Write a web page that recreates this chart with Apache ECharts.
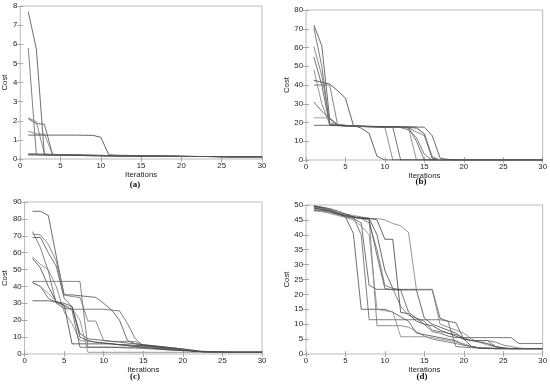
<!DOCTYPE html>
<html>
<head>
<meta charset="utf-8">
<script src="https://cdn.jsdelivr.net/npm/echarts@6/dist/echarts.min.js"></script>
<style>html,body{margin:0;padding:0;background:#fff}#c{width:550px;height:389px}</style>
</head>
<body>
<div id="c"></div>
<script>
const iterations = [1,2,3,4,5,6,7,8,9,10,11,12,13,14,15,16,17,18,19,20,21,22,23,24,25,26,27,28,29,30];
const xTicks = [0,5,10,15,20,25,30];

const panelA = [
  [7.7,5.75,0.22,0.21,0.2,0.19,0.18,0.18,0.17,0.17,0.16,0.16,0.15,0.15,0.15,0.14,0.14,0.14,0.14,0.13,0.13,0.13,0.13,0.13,0.13,0.12,0.12,0.12,0.12,0.12],
  [5.8,0.23,0.22,0.21,0.2,0.19,0.19,0.18,0.17,0.17,0.16,0.16,0.15,0.15,0.15,0.14,0.14,0.14,0.13,0.13,0.13,0.13,0.13,0.12,0.12,0.12,0.12,0.12,0.12,0.12],
  [2.15,1.95,0.26,0.24,0.22,0.21,0.2,0.19,0.18,0.18,0.17,0.16,0.16,0.15,0.15,0.15,0.14,0.14,0.14,0.13,0.13,0.13,0.13,0.13,0.12,0.12,0.12,0.12,0.12,0.12],
  [2.1,1.85,1.82,0.25,0.23,0.22,0.21,0.2,0.19,0.18,0.17,0.17,0.16,0.16,0.15,0.15,0.14,0.14,0.14,0.13,0.13,0.13,0.13,0.13,0.12,0.12,0.12,0.12,0.12,0.12],
  [1.45,1.32,1.3,0.24,0.22,0.21,0.2,0.19,0.18,0.18,0.17,0.16,0.16,0.15,0.15,0.15,0.14,0.14,0.14,0.13,0.13,0.13,0.13,0.12,0.12,0.12,0.12,0.12,0.12,0.12],
  [1.25,1.25,1.25,1.25,1.25,1.25,1.25,1.24,1.24,1.13,0.22,0.2,0.19,0.18,0.17,0.16,0.16,0.15,0.15,0.14,0.14,0.13,0.13,0.13,0.13,0.12,0.12,0.12,0.12,0.12],
  [0.27,0.26,0.25,0.24,0.23,0.22,0.21,0.2,0.2,0.19,0.18,0.18,0.17,0.17,0.16,0.16,0.15,0.15,0.14,0.14,0.14,0.13,0.13,0.13,0.13,0.12,0.12,0.12,0.12,0.12],
  [0.25,0.25,0.24,0.23,0.22,0.21,0.21,0.2,0.19,0.19,0.18,0.17,0.17,0.16,0.16,0.15,0.15,0.14,0.14,0.14,0.13,0.13,0.13,0.13,0.12,0.12,0.12,0.12,0.12,0.12],
  [0.23,0.23,0.22,0.22,0.21,0.2,0.2,0.19,0.19,0.18,0.18,0.17,0.17,0.16,0.16,0.15,0.15,0.14,0.14,0.14,0.13,0.13,0.13,0.13,0.12,0.12,0.12,0.12,0.12,0.12],
  [0.21,0.21,0.2,0.2,0.2,0.19,0.19,0.18,0.18,0.17,0.17,0.16,0.16,0.16,0.15,0.15,0.15,0.14,0.14,0.14,0.13,0.13,0.13,0.13,0.12,0.12,0.12,0.12,0.12,0.12]
];

const panelB = [
  [72,61,22,18.5,18.3,18.1,18,17.9,17.8,17.7,17.6,17.5,17.4,17,14,1,0,0,0,0,0,0,0,0,0,0,0,0,0,0],
  [70.5,50,19,18.5,18.2,18,17.9,17.8,17.7,17.6,17.5,17.3,16,12,3,0,0,0,0,0,0,0,0,0,0,0,0,0,0,0],
  [60.5,45,20,18.6,18.3,18,17.8,17.7,17.6,17.5,0,0,0,0,0,0,0,0,0,0,0,0,0,0,0,0,0,0,0,0],
  [55,40,18.5,18.3,18.1,18,17.9,17.8,17.7,17.6,17.5,0,0,0,0,0,0,0,0,0,0,0,0,0,0,0,0,0,0,0],
  [48,30,19,18.5,18.2,18,17.9,17.8,17.7,17.6,17.5,17.5,17,0,0,0,0,0,0,0,0,0,0,0,0,0,0,0,0,0],
  [42.5,41.5,40.5,37,33,18.5,17,14.2,2,0,0,0,0,0,0,0,0,0,0,0,0,0,0,0,0,0,0,0,0,0],
  [40,40,40,19,18.5,18.2,18,17.9,17.8,17.7,17.6,17.5,17.2,15,13,1,0,0,0,0,0,0,0,0,0,0,0,0,0,0],
  [31,26,22,18.8,18.4,18.1,17.9,17.8,17.7,17.6,17.6,17.5,17.4,10,0,0,0,0,0,0,0,0,0,0,0,0,0,0,0,0],
  [22.5,22.5,22.5,19,18.5,18.2,18,17.9,17.8,17.8,17.7,17.7,17.6,17.5,14,2,0,0,0,0,0,0,0,0,0,0,0,0,0,0],
  [18.5,18.5,18.5,18.4,18.3,18.2,18.1,18,17.9,17.8,17.8,17.7,17.7,17.6,17.5,13,1,0.3,0,0,0,0,0,0,0,0,0,0,0,0]
];

const panelC = [
  [84.5,84.5,82,58,35,35,34.5,34,33.5,30,26,20,8,6,5.5,5,4.5,4,3.5,3,2,1.5,1.3,1.2,1.1,1,1,1,1,1],
  [72.5,63,49,30,27,26.5,26.5,26.5,26.5,26.5,26,25.5,18,9,5,4.5,4,3.5,3,2.5,2,1.5,1.3,1.2,1.1,1,1,1,1,1],
  [71,70.5,65,55,35,34,33.5,19.5,19.5,8,7.5,7.5,7.5,7.3,5,4.5,4,3.5,3,2.5,2,1.5,1.2,1.1,1,1,1,1,1,1],
  [69,69,60,52,33,28,12,9,8.5,8,7.5,7,6.5,6,5.5,5,4.5,4,3.5,3,2.5,1.8,1.5,1.3,1.2,1.1,1,1,1,1],
  [57.5,53,50,40,25,18,8,7.5,7,6.5,6,5.5,5,4.5,4.5,4,3.5,3,3,2.5,2,1.5,1.3,1.2,1.1,1,1,1,1,1],
  [56.5,51,40,31,29,6,6,6,6,6,6,5.5,5.5,5,5,4.5,4,3.5,3,2.5,2,1.5,1.2,1.1,1,1,1,1,1,1],
  [43,43,43,43,43,43,43,4,4,4,4,4,4,4,3.8,3.5,3.2,3,2.8,2.5,2,1.5,1.2,1.1,1,1,1,1,1,1],
  [42.5,40,33,30.5,29,26,4,4,4,4,4,3.8,3.6,3.5,3.3,3,2.8,2.5,2.3,2,1.8,1.5,1.3,1.2,1.1,1,1,1,1,1],
  [42,40,36,31,28,27,20,1,1,1,1,1,1,1,1,1,1,1,1,1,1,1,1,1,1,1,1,1,1,1],
  [31.5,31.5,31.5,31,30,28,10,8,7,6.5,6,5.5,5,4.5,4,3.5,3,2.5,2.2,2,1.8,1.5,1.3,1.2,1.1,1,1,1,1,1]
];

const panelD = [
  [49.5,49,48.5,47.5,46,40.5,15,15,15,15,14,12.5,11,7,6.5,6,5.5,5,4.5,3,2.5,2,2,1.8,1.8,1.8,1.8,1.8,1.8,1.8],
  [49,48.5,48,47,46.5,46,40,11.5,11.5,11.5,11.5,11.5,11.5,11.5,11.5,11.5,11.5,11,2.5,2.3,2.1,2,1.9,1.8,1.8,1.8,1.8,1.8,1.8,1.8],
  [49.8,49.2,48.5,47.5,46.5,46,45.5,45.5,9.5,9.5,9.5,9.5,9,7.5,6,5,4.5,4,3.5,3,2.5,2,2,1.8,1.8,1.8,1.8,1.8,1.8,1.8],
  [49.5,49,48,47,46,45.5,44,23,21.7,21.7,21.7,21.7,21.7,21.7,21.7,21.7,12,11,10.5,5,4.5,4.5,4.5,2.5,2,1.8,1.8,1.8,1.8,1.8],
  [49.3,48.8,48.2,47.5,47,46.5,46,45.5,45.5,45,43.8,43,40.8,21.5,21.5,21.5,10,9,8,7,5,4,3,2.5,2,1.8,1.8,1.8,1.8,1.8],
  [49,48.5,48,47.2,46.5,46,45.8,45.5,45,38.5,38.5,14,13.5,11,10,9.5,8,7,6,5,4.5,4,3.5,2.5,2,1.8,1.8,1.8,1.8,1.8],
  [48.5,48.2,47.8,47,46.5,46,45.5,44,35,23,22,16,13,12,11,8,7.5,7,6.5,5.5,4.5,4.5,4.5,4,3,2.5,2,1.8,1.8,1.8],
  [48.2,48,47.5,46.8,46.2,45.8,45.5,45,33,22,21.5,21.5,14,12,10,7.5,7,6,5.5,5.5,5.5,5.5,5.5,5.5,5.5,5.5,3.5,3.5,3.5,3.5],
  [48,47.8,47.2,46.5,45.8,45,43,40,15,14.5,14.2,5.8,5.8,5.8,5.8,5.5,5,4.5,4,3.5,2.5,2,2,2,1.8,1.8,1.8,1.8,1.8,1.8],
  [49.6,49.3,48.8,48,47,46,45.5,45.5,40,28,22,21.5,21.5,21.5,12,10,9,8,7,5,2.5,2,1.8,1.8,1.8,1.8,1.8,1.8,1.8,1.8]
];

const yMax = [8, 80, 90, 50];
const yStep = [1, 10, 10, 5];
const captions = ['(a)', '(b)', '(c)', '(d)'];
const panels = [panelA, panelB, panelC, panelD];

const grids = [
  {left: 20, top: 6, width: 242, height: 153},
  {left: 306, top: 10, width: 238, height: 150},
  {left: 23, top: 202, width: 239, height: 152},
  {left: 306, top: 205, width: 238, height: 149}
];
const costGap = [9, 13, 12, 13];
const capPos = [[135,185],[421,182],[135,377],[422,377]];
const lineColors = ['#4a4a4a','#5e5e5e','#707070','#505050','#7a7a7a','#3c3c3c','#666','#565656','#858585','#444'];

const font = 'Liberation Sans, Arial, Helvetica, sans-serif';
const tickStyle = {show: true, inside: true, length: 3, lineStyle: {color: '#999', width: 0.8}};

const xAxes = [], yAxes = [], series = [], graphics = [];
grids.forEach((g, k) => {
  g.show = true; g.borderColor = '#aaa'; g.borderWidth = 0.8; g.backgroundColor = '#fff';
  xAxes.push({
    gridIndex: k, type: 'value', min: 0, max: 30, interval: 5, position: 'bottom',
    name: 'Iterations', nameLocation: 'middle', nameGap: 10,
    nameTextStyle: {fontFamily: font, fontSize: 7.8, color: '#222'},
    axisLine: {show: false}, axisTick: tickStyle, splitLine: {show: false},
    axisLabel: {fontFamily: font, fontSize: 7.8, color: '#222', margin: 3}
  });
  xAxes.push({
    gridIndex: k, type: 'value', min: 0, max: 30, interval: 5, position: 'top',
    axisLine: {show: false}, axisTick: tickStyle, splitLine: {show: false}, axisLabel: {show: false}
  });
  yAxes.push({
    gridIndex: k, type: 'value', min: 0, max: yMax[k], interval: yStep[k], position: 'left',
    name: 'Cost', nameLocation: 'middle', nameGap: costGap[k],
    nameTextStyle: {fontFamily: font, fontSize: 7.8, color: '#222'},
    axisLine: {show: false}, axisTick: tickStyle, splitLine: {show: false},
    axisLabel: {fontFamily: font, fontSize: 7.8, color: '#222', margin: 3}
  });
  yAxes.push({
    gridIndex: k, type: 'value', min: 0, max: yMax[k], interval: yStep[k], position: 'right',
    axisLine: {show: false}, axisTick: tickStyle, splitLine: {show: false}, axisLabel: {show: false}
  });
  panels[k].forEach((vals, j) => {
    series.push({
      type: 'line', xAxisIndex: 2 * k, yAxisIndex: 2 * k, symbol: 'none', silent: true,
      animation: false,
      lineStyle: {color: lineColors[j % lineColors.length], width: 0.8},
      data: iterations.map((x, i) => [x, vals[i]])
    });
  });
  graphics.push({
    type: 'text', x: capPos[k][0], y: capPos[k][1],
    style: {text: captions[k], fill: '#111', font: 'bold 9px "Liberation Serif", "DejaVu Serif", serif',
            textAlign: 'center', textVerticalAlign: 'middle'}
  });
});

const chart = echarts.init(document.getElementById('c'), null, {renderer: 'canvas'});
chart.setOption({
  animation: false,
  grid: grids,
  xAxis: xAxes,
  yAxis: yAxes,
  series: series,
  graphic: graphics
});
</script>
</body>
</html>
